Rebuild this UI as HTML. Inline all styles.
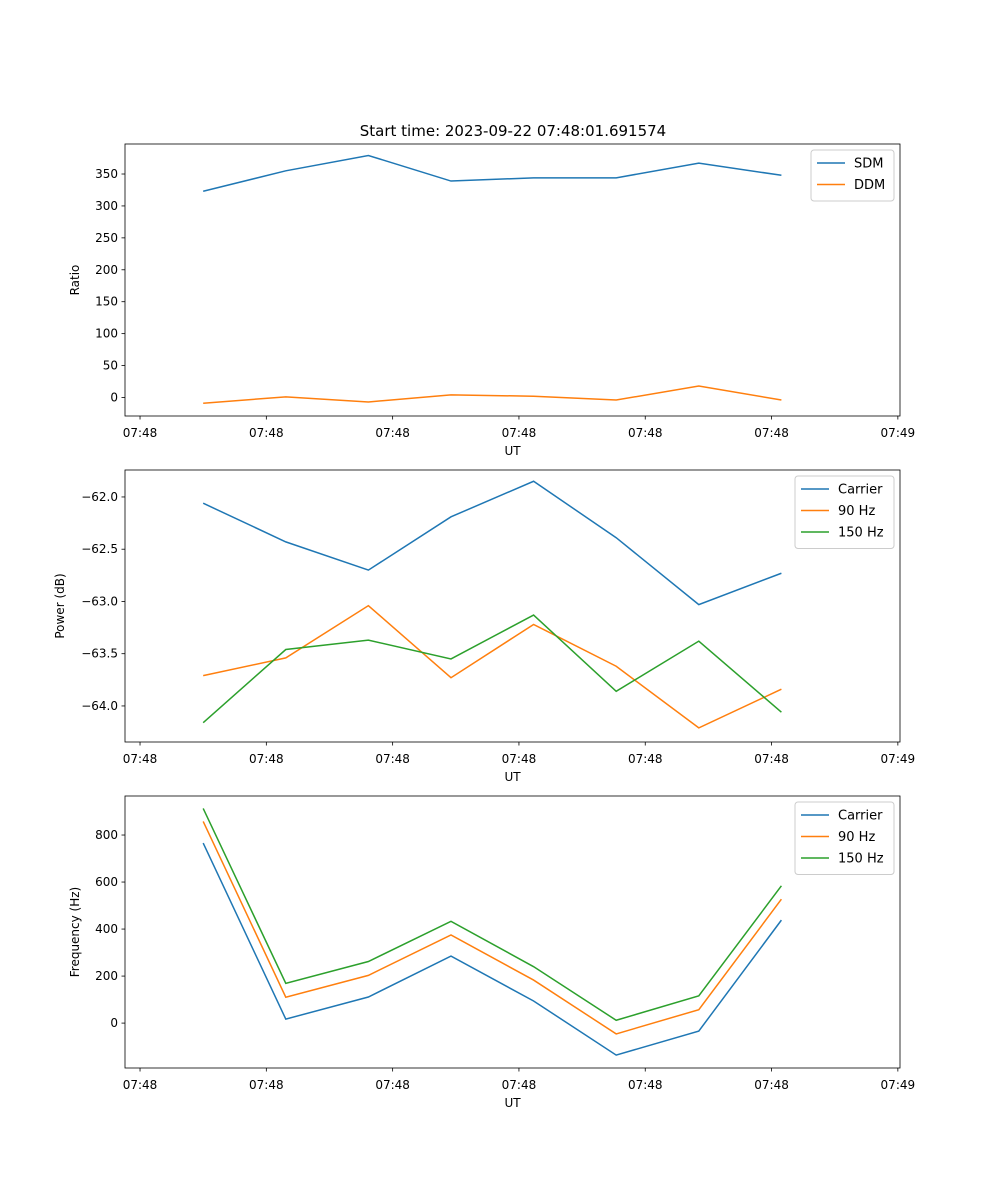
<!DOCTYPE html>
<html><head><meta charset="utf-8"><style>
body{margin:0;background:#fff;}
svg{display:block;font-family:"DejaVu Sans","Liberation Sans",sans-serif;}
</style></head><body>
<svg id="fig" width="1000" height="1200" viewBox="0 0 1000 1200">
<text x="513" y="136" font-size="15" text-anchor="middle">Start time: 2023-09-22 07:48:01.691574</text>
</svg>
<script>
const times = [5.0, 11.54, 18.08, 24.62, 31.16, 37.7, 44.24, 50.78];
const xTicks = [0, 10, 20, 30, 40, 50, 60];
const xTickLabels = ["07:48","07:48","07:48","07:48","07:48","07:48","07:49"];
const sdm = [323, 355, 379, 339, 344, 344, 367, 348];
const ddm = [-9, 1, -7, 4, 2, -4, 18, -4];
const ratioTicks = [0, 50, 100, 150, 200, 250, 300, 350];
const powCarrier = [-62.06, -62.43, -62.70, -62.19, -61.85, -62.39, -63.03, -62.73];
const pow90 = [-63.71, -63.54, -63.04, -63.73, -63.22, -63.62, -64.21, -63.84];
const pow150 = [-64.16, -63.46, -63.37, -63.55, -63.13, -63.86, -63.38, -64.06];
const powTicks = [-64.0, -63.5, -63.0, -62.5, -62.0];
const freqCarrier = [766, 17, 111, 285, 94, -136, -34, 438];
const freq90 = [858, 110, 203, 375, 183, -46, 57, 527];
const freq150 = [913, 169, 262, 433, 240, 12, 116, 584];
const freqTicks = [0, 200, 400, 600, 800];

const NS = "http://www.w3.org/2000/svg";
const svg = document.getElementById('fig');
const L = 125, R = 900;
const xDom = [-1.19, 60.17];
function xs(t){ return L + (t - xDom[0]) / (xDom[1] - xDom[0]) * (R - L); }
function mk(tag, attrs, parent){ const e = document.createElementNS(NS, tag); for (const k in attrs) e.setAttribute(k, attrs[k]); (parent||svg).appendChild(e); return e; }
const C = ['#1f77b4', '#ff7f0e', '#2ca02c'];

function panel(name, top, bottom, yDom, yTicks, fmt, ylabel, ylx, series, labels, legW){
  const g = mk('g', {});
  
  
  const ys = v => bottom - (v - yDom[0]) / (yDom[1] - yDom[0]) * (bottom - top);
  series.forEach((s, i) => {
    const p = mk('polyline', {points: times.map((t, j) => xs(t) + ',' + ys(s[j])).join(' '), fill: 'none', stroke: C[i], 'stroke-width': 1.5}, g);
    
    
  });
  mk('rect', {x: L, y: top, width: R - L, height: bottom - top, fill: 'none', stroke: '#000', 'stroke-width': 0.8}, g);
  xTicks.forEach((t, i) => {
    const x = xs(t);
    mk('line', {x1: x, x2: x, y1: bottom, y2: bottom + 3.5, stroke: '#000', 'stroke-width': 0.8}, g);
    const tx = mk('text', {x: x, y: bottom + 21, 'font-size': 12, 'text-anchor': 'middle'}, g);
    tx.textContent = xTickLabels[i];
    
    
  });
  yTicks.forEach(v => {
    const y = ys(v);
    mk('line', {x1: L - 3.5, x2: L, y1: y, y2: y, stroke: '#000', 'stroke-width': 0.8}, g);
    const tx = mk('text', {x: L - 7, y: y + 4, 'font-size': 12, 'text-anchor': 'end'}, g);
    tx.textContent = fmt(v);
    
    
  });
  const xl = mk('text', {x: (L + R) / 2, y: bottom + 39, 'font-size': 12, 'text-anchor': 'middle'}, g);
  xl.textContent = 'UT';
  
  
  const yl = mk('text', {x: 0, y: 0, 'font-size': 12, 'text-anchor': 'middle', transform: 'translate(' + ylx + ',' + ((top + bottom) / 2) + ') rotate(-90)'}, g);
  yl.textContent = ylabel;
  
  
  const lg = mk('g', {}, g);
  
  
  const lx = R - 6 - legW, ly = top + 6;
  mk('rect', {x: lx, y: ly, width: legW, height: 8 + labels.length * 21.5, fill: '#fff', stroke: '#ccc', rx: 3}, lg);
  labels.forEach((lab, i) => {
    const yy = ly + 13 + i * 21.5;
    mk('line', {x1: lx + 6, x2: lx + 34, y1: yy, y2: yy, stroke: C[i], 'stroke-width': 1.5}, lg);
    const t = mk('text', {x: lx + 43, y: yy + 4.5, 'font-size': 13}, lg);
    t.textContent = lab;
    
    
  });
}
panel('ratio', 144, 416, [-29, 397], ratioTicks, v => String(v), 'Ratio', 79, [sdm, ddm], ['SDM', 'DDM'], 83);
panel('power', 470, 742, [-64.345, -61.742], powTicks, v => v.toFixed(1).replace('-', '\u2212'), 'Power (dB)', 64, [powCarrier, pow90, pow150], ['Carrier', '90 Hz', '150 Hz'], 99);
panel('frequency', 796, 1068, [-191, 966], freqTicks, v => String(v), 'Frequency (Hz)', 79, [freqCarrier, freq90, freq150], ['Carrier', '90 Hz', '150 Hz'], 99);
</script>
</body></html>
